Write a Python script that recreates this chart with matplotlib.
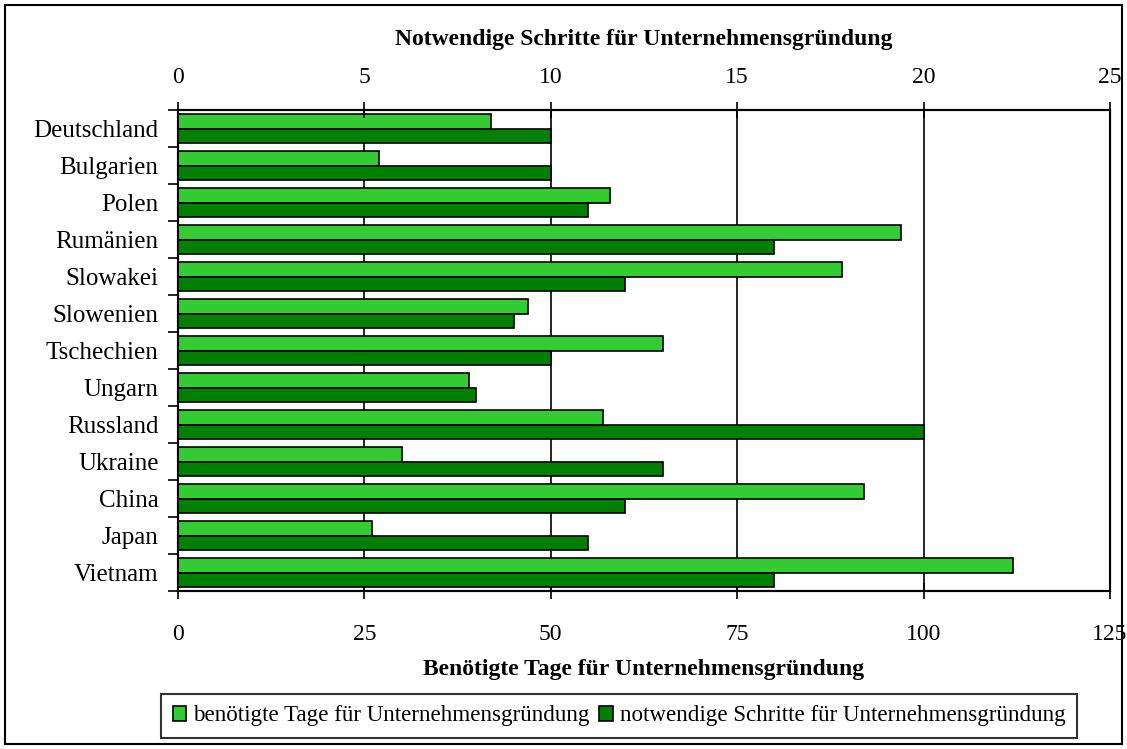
import numpy as np
import matplotlib.pyplot as plt
from matplotlib.patches import Rectangle, Patch

plt.rcParams['font.family'] = ['Liberation Serif', 'DejaVu Serif']

# data
countries = ['Deutschland', 'Bulgarien', 'Polen', 'Rumänien', 'Slowakei', 'Slowenien',
             'Tschechien', 'Ungarn', 'Russland', 'Ukraine', 'China', 'Japan', 'Vietnam']
days = [42, 27, 58, 97, 89, 47, 65, 39, 57, 30, 92, 26, 112]
steps = [10, 10, 11, 16, 12, 9, 10, 8, 20, 13, 12, 11, 16]

day_ticks = [0, 25, 50, 75, 100, 125]
step_ticks = [0, 5, 10, 15, 20, 25]

light = '#33CC33'
dark = '#008000'

fig = plt.figure(figsize=(11.27, 7.49), dpi=100)
ax = fig.add_axes([178/1127, 1 - 591/749, (1110-178)/1127, (591-110)/749])

n = len(countries)
y = np.arange(n)
h = 0.4

# light bars (days) on the bottom axis, upper half of each slot
ax.barh(y - h/2, days, height=h, color=light, edgecolor='black', linewidth=1.2, zorder=3)
ax.set_xlim(0, 125)
ax.set_ylim(n - 0.5, -0.5)
ax.set_xticks(day_ticks)
ax.tick_params(axis='x', direction='inout', length=12, width=1.2, labelsize=17, pad=18)
ax.set_xlabel('Benötigte Tage für Unternehmensgründung', fontsize=17, fontweight='bold', labelpad=10)
ax.grid(axis='x', color='black', linewidth=1.2, zorder=0)

# y ticks at slot boundaries, labels at centres
ax.set_yticks(np.arange(n + 1) - 0.5)
ax.set_yticklabels([])
ax.set_yticks(y, minor=True)
ax.set_yticklabels(countries, minor=True, fontsize=18)
ax.tick_params(axis='y', which='major', direction='out', length=7, width=1.2)
ax.tick_params(axis='y', which='minor', length=0, pad=14)

# dark bars (steps) on the top axis, lower half of each slot
ax2 = ax.twiny()
ax2.barh(y + h/2, steps, height=h, color=dark, edgecolor='black', linewidth=1.2, zorder=3)
ax2.set_xlim(0, 25)
ax2.set_xticks(step_ticks)
ax2.tick_params(axis='x', direction='inout', length=12, width=1.2, labelsize=17, pad=10)
ax2.set_xlabel('Notwendige Schritte für Unternehmensgründung', fontsize=17, fontweight='bold', labelpad=16)

for a in (ax, ax2):
    for s in a.spines.values():
        s.set_linewidth(1.5)
        s.set_color('black')

handles = [Patch(facecolor=light, edgecolor='black', linewidth=1.2),
           Patch(facecolor=dark, edgecolor='black', linewidth=1.2)]
leg = fig.legend(handles, ['benötigte Tage für Unternehmensgründung',
                           'notwendige Schritte für Unternehmensgründung'],
                 loc='center', bbox_to_anchor=(619/1127, 1 - 716/749), ncol=2,
                 fontsize=16.6, frameon=True, fancybox=False, edgecolor='black',
                 handlelength=0.6, handleheight=0.6, handletextpad=0.3,
                 columnspacing=0.4, borderpad=0.5, borderaxespad=0)
leg.get_frame().set_linewidth(1.5)

# outer border round the whole chart
fig.patches.append(Rectangle((5/1127, 5/749), 1117/1127, 739/749, transform=fig.transFigure,
                             fill=False, edgecolor='black', linewidth=1.5))

fig.savefig('out.png', dpi=100)
